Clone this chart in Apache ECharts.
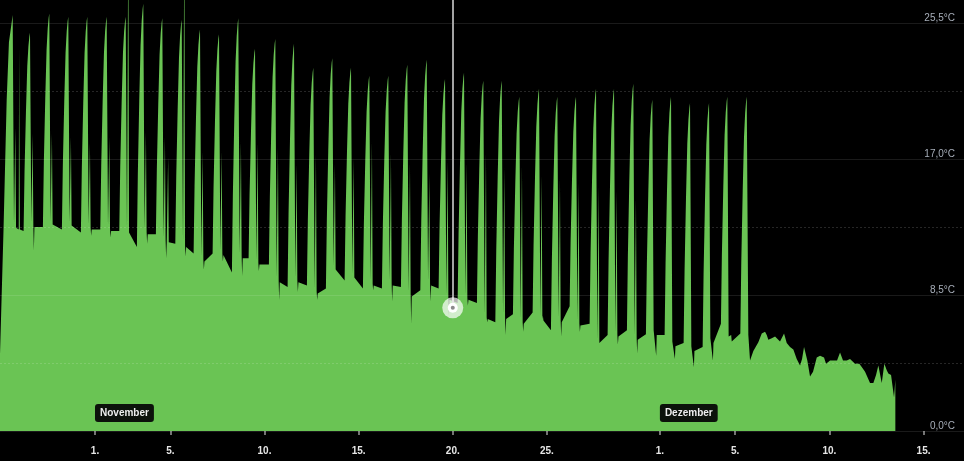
<!DOCTYPE html>
<html><head><meta charset="utf-8">
<script src="https://cdn.jsdelivr.net/npm/echarts@6/dist/echarts.min.js"></script>
<style>html,body{margin:0;padding:0;background:#000}#c{width:964px;height:461px}</style>
</head><body><div id="c"></div>
<script>
// x values are days counted from 1 November 00:00
const xTickDays = [0, 4, 9, 14, 19, 24, 30, 34, 39, 44];
const xTickLabels = ['1.', '5.', '10.', '15.', '20.', '25.', '1.', '5.', '10.', '15.'];
const monthStartDays = [0, 30];
const monthLabels = ['November', 'Dezember'];
const yTickValues = [0, 8.5, 17, 25.5];
const yMinorValues = [4.25, 12.75, 21.25];

// daily afternoon peaks
const peakAt = [-4.371,-3.452,-2.427,-1.418,-0.409,0.621,1.630,2.565,3.574,4.605,5.577,6.586,7.611,8.498,9.576,10.569,11.594,12.603,13.596,14.568,15.577,16.587,17.617,18.589,19.598,20.623,21.600,22.535,23.581,24.553,25.546,26.608,27.564,28.589,29.598,30.591,31.600,32.610,33.581,34.612];
const peakVal = [26.0,24.9,26.1,25.9,25.9,25.9,25.9,26.7,25.8,25.7,25.1,24.8,25.8,23.9,24.5,24.2,22.7,23.3,22.7,22.2,22.2,22.9,23.2,22.0,22.4,21.9,21.9,20.9,21.4,20.9,20.9,21.4,21.4,21.7,20.7,20.9,20.5,20.5,20.9,20.9];
// short secondary spike just after each peak
const echoVal = [19.0,18.6,18.6,18.4,18.0,18.4,32,18.7,18.4,32,17.5,17.5,18.1,18.0,17.7,16.7,17.3,16.7,17.1,18.1,17.4,16.8,16.1,16.9,16.8,17.4,16.5,16.6,16.0,15.8,15.5,15.3,15.0,14.5,null,null,null,null,null,null];
// night values after each peak: short dip, level, value before next rise
const dipVal = [12.6,11.3,12.8,12.75,12.2,12.1,12.3,11.7,10.8,10.9,10.1,10.6,9.7,10.0,8.2,8.7,8.2,10.0,9.5,8.8,8.1,6.7,8.1,7.2,7.85,6.8,6.0,6.2,7.2,5.9,6.2,5.4,5.4,4.85,4.7,4.5,4.0,4.4,6.0];
const levelVal = [12.6,12.75,12.8,12.75,12.6,12.5,12.3,12.3,11.8,11.5,10.6,11.0,10.8,10.4,9.3,9.3,8.6,10.0,9.5,9.1,9.1,8.4,9.1,8.2,8.2,7.0,7.0,6.7,6.9,6.8,6.6,5.4,5.9,5.7,6.0,5.3,5.0,5.5,5.6];
const endVal = [12.5,12.75,12.6,12.4,12.6,12.5,11.5,12.3,11.7,11.1,11.1,9.9,10.8,10.4,9.0,9.1,8.9,9.4,8.9,8.9,9.0,8.8,8.9,8.0,8.0,6.8,7.3,7.4,6.3,7.8,6.7,6.0,6.3,6.05,6.0,5.5,5.25,6.7,6.1];
const leadIn = [[-5.045,4.8],[-4.86,12.5],[-4.69,20.7],[-4.57,24.3]];
const extraSpikes = [[-4.020,24.0,12.6,0.03],[3.893,17.1,11.8,0.025]];
const tail = [[34.697,6.0],[34.787,4.4],[34.963,5.0],[35.228,5.55],[35.409,6.1],[35.584,6.2],[35.674,6.0],[35.759,5.7],[35.940,5.8],[36.115,5.9],[36.205,5.8],[36.380,5.6],[36.593,6.1],[36.736,5.5],[36.911,5.25],[37.087,5.1],[37.267,4.5],[37.443,4.1],[37.549,4.5],[37.655,5.25],[37.830,4.4],[37.974,3.4],[38.133,3.7],[38.330,4.6],[38.505,4.7],[38.717,4.6],[38.823,4.2],[39.036,4.4],[39.408,4.4],[39.567,4.9],[39.726,4.4],[39.923,4.4],[40.098,4.5],[40.364,4.2],[40.592,4.2],[40.719,4.0],[40.895,3.7],[41.160,3.0],[41.336,3.0],[41.479,3.5],[41.601,4.1],[41.782,3.0],[41.920,4.2],[42.047,3.8],[42.132,3.6],[42.276,3.5],[42.345,3.6],[42.435,2.1],[42.504,3.2]];
const crossDay = 19;
const crossVal = 7.7;

const X_MIN = -5.045, X_MAX = 46.15, Y_MAX = 26.94;
const GREEN = '#6ac454';
const FONT = "'Liberation Sans', Arial, sans-serif";
// rise profile of a spike: [days before peak, share of the rise]
const RISE = [[-0.34,0],[-0.29,0.3],[-0.215,0.6],[-0.145,0.83],[-0.085,0.93],[-0.035,0.98]];

const pts = [];
leadIn.forEach(p => pts.push(p));
for (let k = 0; k < peakAt.length; k++) {
  const p = peakAt[k], v = peakVal[k];
  if (k > 0) {
    const b = endVal[k - 1];
    RISE.forEach(([dt, f]) => pts.push([p + dt, b + f * (v - b)]));
  }
  pts.push([p, v]);
  if (k < peakAt.length - 1) {
    const lv = levelVal[k];
    pts.push([p + 0.07, lv + 0.3]);
    if (echoVal[k] != null) {
      pts.push([p + 0.124, lv + 0.2], [p + 0.14, echoVal[k]], [p + 0.162, echoVal[k]], [p + 0.178, lv + 0.1]);
    }
    pts.push([p + 0.205, dipVal[k]], [p + 0.235, lv]);
  }
}
extraSpikes.forEach(([t, v, b, w]) => {
  pts.push([t - w, b], [t - w / 3, v], [t + w / 3, v], [t + w, b]);
});
tail.forEach(p => pts.push(p));
pts.sort((a, b) => a[0] - b[0]);

const chart = echarts.init(document.getElementById('c'), null, {renderer: 'canvas'});
chart.setOption({
  backgroundColor: '#000',
  animation: false,
  grid: {left: 0, right: 0, top: 0, bottom: 30},
  xAxis: [{
    type: 'value', min: X_MIN, max: X_MAX, offset: 8,
    axisLine: {show: false}, splitLine: {show: false},
    axisTick: {show: true, customValues: xTickDays, length: 4, lineStyle: {color: '#9a9a9a', width: 1.5}},
    axisLabel: {customValues: xTickDays, formatter: v => xTickLabels[xTickDays.indexOf(v)],
      color: '#e6e6e6', fontSize: 10, fontWeight: 'bold', margin: 7, fontFamily: FONT}
  }, {
    type: 'value', min: X_MIN, max: X_MAX, position: 'bottom', z: 6,
    axisLine: {show: false}, axisTick: {show: false}, splitLine: {show: false},
    axisLabel: {inside: true, customValues: monthStartDays, formatter: v => monthLabels[monthStartDays.indexOf(v)],
      align: 'left', margin: 9, color: '#eeeeee', fontSize: 10, fontWeight: 'bold', fontFamily: FONT,
      backgroundColor: '#0c120b', borderRadius: 3, padding: [4, 5, 4, 5]}
  }],
  yAxis: {
    type: 'value', position: 'right', min: 0, max: Y_MAX, interval: 8.5, z: 4,
    axisLine: {show: false}, axisTick: {show: false},
    splitLine: {show: true, showMaxLine: false, lineStyle: {color: 'rgba(255,255,255,0.1)', width: 1}},
    axisLabel: {inside: true, margin: 9, verticalAlign: 'bottom', color: '#a7aeb9', fontSize: 10, fontFamily: FONT,
      formatter: v => yTickValues.includes(v) ? v.toFixed(1).replace('.', ',') + '°C' : ''}
  },
  series: [{
    type: 'line', data: pts, showSymbol: false, symbol: 'none', silent: true, z: 2,
    lineStyle: {width: 0}, areaStyle: {color: GREEN, opacity: 1},
    markLine: {
      silent: true, symbol: 'none', label: {show: false}, animation: false,
      data: yMinorValues.map(v => ({yAxis: v, lineStyle: {type: [2, 2], color: 'rgba(255,255,255,0.15)', width: 1}}))
        .concat([[{coord: [crossDay, crossVal], lineStyle: {color: '#a3a3a3', width: 2, type: 'solid'}}, {coord: [crossDay, Y_MAX]}]])
    },
    markPoint: {
      silent: true, label: {show: false}, animation: false,
      data: [
        {coord: [crossDay, crossVal], symbol: 'circle', symbolSize: 21, itemStyle: {color: 'rgba(255,255,255,0.7)'}},
        {coord: [crossDay, crossVal], symbol: 'circle', symbolSize: 10, itemStyle: {color: '#ffffff'}},
        {coord: [crossDay, crossVal], symbol: 'circle', symbolSize: 4, itemStyle: {color: '#8a8a8a'}}
      ]
    }
  }]
});
</script></body></html>
